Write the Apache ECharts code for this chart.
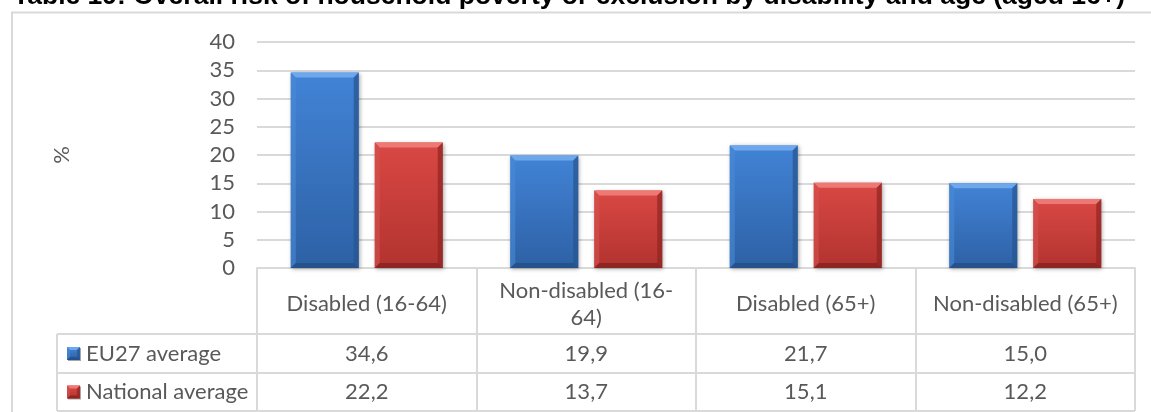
<!DOCTYPE html>
<html>
<head>
<meta charset="utf-8">
<script src="https://cdn.jsdelivr.net/npm/echarts@6/dist/echarts.min.js"></script>
<style>
  html, body { margin: 0; padding: 0; background: #fff; }
  #chart { width: 1151px; height: 412px; }
</style>
</head>
<body>
<div id="chart"></div>
<script>
// ---- data ----
const chartTitle = 'Table 19: Overall risk of household poverty or exclusion by disability and age (aged 16+)';
const categories = ['Disabled (16-64)', 'Non-disabled (16-64)', 'Disabled (65+)', 'Non-disabled (65+)'];
const categoryLabels = ['Disabled (16-64)', 'Non-disabled (16-\n64)', 'Disabled (65+)', 'Non-disabled (65+)'];
const seriesNames = ['EU27 average', 'National average'];
const eu27Average = [34.6, 19.9, 21.7, 15.0];
const nationalAverage = [22.2, 13.7, 15.1, 12.2];
const yAxisTitle = '%';
const yMin = 0, yMax = 40, yStep = 5;

// ---- style ----
const FONT = 'Lato, "Noto Sans", sans-serif';
const FS = 22;
const TEXT = '#595959';
const LINE = '#d9d9d9';
const W = 1151, H = 412;
const GRID = { left: 257, right: 16, top: 42, bottom: 144 };
const axisY = H - GRID.bottom;            // top edge of the data table
const tableLeft = 57;
const tableRight = W - GRID.right;
const headerBottom = 334, row1Bottom = 373, row2Bottom = 411;

const palettes = [
  { top: '#4283d6', bottom: '#2d61a5', bevelTop: '#6fa7ec', bevelLeft: '#4a8ad6', bevelRight: '#27548e', bevelBottom: '#224b80' },
  { top: '#d94844', bottom: '#b2332f', bevelTop: '#ee7873', bevelLeft: '#d4524e', bevelRight: '#8e2421', bevelBottom: '#7d1f1c' }
];

const fmt = v => v.toFixed(1).replace('.', ',');

// bar width / gap as fractions of one category band
const BAR_FRAC = 68 / 219.5;
const GAP_FRAC = 16 / 219.5;
const BEVEL = 5;

function vGrad(c1, c2) {
  return new echarts.graphic.LinearGradient(0, 0, 0, 1, [
    { offset: 0, color: c1 }, { offset: 1, color: c2 }
  ]);
}

// a bar with bevelled edges: face, then light top/left and dark right/bottom facets
function bevelShapes(x, y, w, h, pal, b, shadow) {
  b = Math.min(b, w / 2, h / 2);
  return [
    { type: 'rect', shape: { x, y, width: w, height: h },
      style: { fill: vGrad(pal.top, pal.bottom),
        shadowBlur: shadow ? 4 : 0, shadowColor: 'rgba(0,0,0,0.35)', shadowOffsetX: 1, shadowOffsetY: 1 } },
    { type: 'polygon', shape: { points: [[x, y], [x + w, y], [x + w - b, y + b], [x + b, y + b]] },
      style: { fill: pal.bevelTop } },
    { type: 'polygon', shape: { points: [[x, y], [x + b, y + b], [x + b, y + h - b], [x, y + h]] },
      style: { fill: pal.bevelLeft, opacity: 0.6 } },
    { type: 'polygon', shape: { points: [[x + w, y], [x + w, y + h], [x + w - b, y + h - b], [x + w - b, y + b]] },
      style: { fill: pal.bevelRight, opacity: 0.7 } },
    { type: 'polygon', shape: { points: [[x, y + h], [x + w, y + h], [x + w - b, y + h - b], [x + b, y + h - b]] },
      style: { fill: pal.bevelBottom, opacity: 0.7 } }
  ];
}

function makeRenderer(seriesIdx) {
  return function (params, api) {
    const cat = api.value(0);
    const val = api.value(1);
    const band = api.size([1, 0])[0];
    const barW = band * BAR_FRAC;
    const gap = band * GAP_FRAC;
    const base = api.coord([cat, 0]);
    const topPt = api.coord([cat, val]);
    const x = base[0] - gap / 2 - barW + seriesIdx * (barW + gap);
    const y = topPt[1];
    const h = base[1] - topPt[1];
    return { type: 'group', children: bevelShapes(x, y, barW, h, palettes[seriesIdx], BEVEL, true) };
  };
}

const chart = echarts.init(document.getElementById('chart'), null, { renderer: 'canvas' });

const seriesData = [eu27Average, nationalAverage];

// table lines, legend column and heading
const tableGraphics = [
  { type: 'rect', shape: { x: 12, y: 12.5, width: 1300, height: 600 }, style: { fill: 'none', stroke: LINE, lineWidth: 2 }, silent: true },
  { type: 'line', shape: { x1: tableLeft, y1: headerBottom, x2: tableRight, y2: headerBottom }, style: { stroke: LINE, lineWidth: 2 } },
  { type: 'line', shape: { x1: tableLeft, y1: row1Bottom, x2: tableRight, y2: row1Bottom }, style: { stroke: LINE, lineWidth: 2 } },
  { type: 'line', shape: { x1: tableLeft, y1: row2Bottom, x2: tableRight, y2: row2Bottom }, style: { stroke: LINE, lineWidth: 2 } },
  { type: 'line', shape: { x1: tableLeft, y1: headerBottom, x2: tableLeft, y2: row2Bottom }, style: { stroke: LINE, lineWidth: 2 } },
  { type: 'text', x: 13, y: -3, style: { text: chartTitle, font: 'bold 26.5px "Liberation Sans", Arial, sans-serif', fill: '#000', verticalAlign: 'middle', align: 'left' } }
];
const rowCenters = [(headerBottom + row1Bottom) / 2, (row1Bottom + row2Bottom) / 2];
seriesNames.forEach((name, i) => {
  const cy = rowCenters[i];
  tableGraphics.push({ type: 'group', children: bevelShapes(67, cy - 6.5, 13, 13, palettes[i], 3, false) });
  tableGraphics.push({ type: 'text', x: 86, y: cy, style: { text: name, font: FS + 'px ' + FONT, fill: TEXT, verticalAlign: 'middle', align: 'left' } });
});

function valueAxis(values, offset) {
  return {
    type: 'category', gridIndex: 0, position: 'bottom', offset,
    data: values.map(fmt),
    axisLine: { show: false }, axisTick: { show: false }, splitLine: { show: false },
    axisLabel: { interval: 0, margin: 0, verticalAlign: 'middle', color: TEXT, fontSize: FS, fontFamily: FONT }
  };
}

chart.setOption({
  animation: false,
  backgroundColor: '#fff',
  grid: GRID,
  xAxis: [
    {
      type: 'category', data: categories, position: 'bottom',
      axisLine: { show: true, lineStyle: { color: LINE, width: 2 } },
      axisTick: { show: true, interval: 0, length: row2Bottom - axisY, lineStyle: { color: LINE, width: 2 } },
      axisLabel: {
        interval: 0, margin: 36, verticalAlign: 'middle', lineHeight: 27,
        color: TEXT, fontSize: FS, fontFamily: FONT,
        formatter: (v, i) => categoryLabels[i]
      }
    },
    valueAxis(eu27Average, (headerBottom + row1Bottom) / 2 - axisY),
    valueAxis(nationalAverage, (row1Bottom + row2Bottom) / 2 - axisY)
  ],
  yAxis: {
    type: 'value', min: yMin, max: yMax, interval: yStep,
    name: yAxisTitle, nameLocation: 'middle', nameRotate: 90, nameGap: 184,
    nameTextStyle: { color: TEXT, fontSize: FS, fontFamily: FONT },
    axisLine: { show: false }, axisTick: { show: false },
    axisLabel: { color: TEXT, fontSize: FS, fontFamily: FONT, margin: 22 },
    splitLine: { lineStyle: { color: LINE, width: 2 } }
  },
  series: seriesNames.map((name, s) => ({
    type: 'custom', name,
    renderItem: makeRenderer(s),
    encode: { x: 0, y: 1 },
    data: seriesData[s].map((v, i) => [i, v]),
    z: 3
  })),
  graphic: tableGraphics
});
</script>
</body>
</html>
